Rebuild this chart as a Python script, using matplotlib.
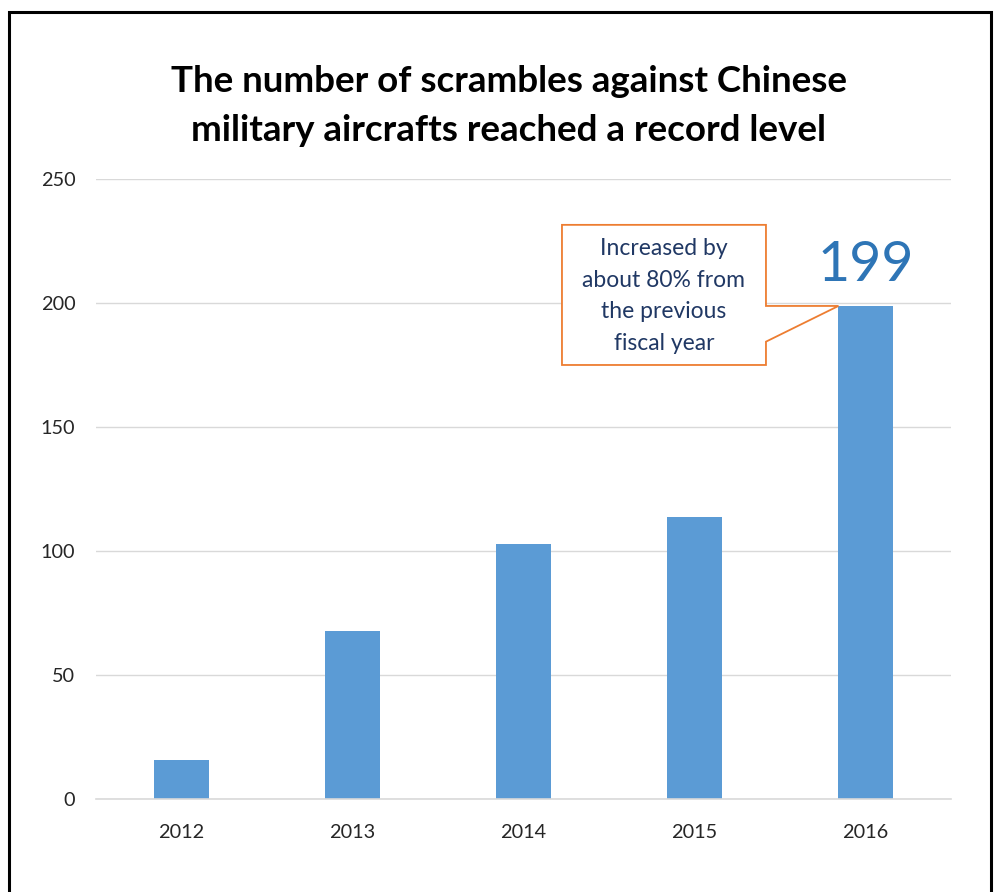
import matplotlib
matplotlib.use("Agg")
from matplotlib import pyplot as plt
from matplotlib.patches import Polygon, Rectangle

years = ["2012", "2013", "2014", "2015", "2016"]
scrambles = [16, 68, 103, 114, 199]
yticks = [0, 50, 100, 150, 200, 250]

title = "The number of scrambles against Chinese\nmilitary aircrafts reached a record level"
note = "Increased by\nabout 80% from\nthe previous\nfiscal year"

plt.rcParams['font.family'] = ['Lato', 'DejaVu Sans']

fig = plt.figure(figsize=(9.96, 8.92), dpi=100)
ax = fig.add_axes([0.0964, 0.1037, 0.8584, 0.6951])

w = 0.316
x = list(range(len(years)))
ax.bar(x, scrambles, width=w, color='#5B9BD5', zorder=2)

ax.set_xlim(-0.5, len(years) - 0.5)
ax.set_ylim(0, 250)
ax.set_yticks(yticks)
ax.set_xticks(x)
ax.set_xticklabels(years)
ax.grid(axis='y', color='#D9D9D9', linewidth=1, zorder=0)
for s in ['top', 'right', 'left']:
    ax.spines[s].set_visible(False)
ax.spines['bottom'].set_color('#D9D9D9')
ax.spines['bottom'].set_linewidth(1.2)
ax.tick_params(axis='both', length=0, labelsize=14.3, colors='#262626')
ax.tick_params(axis='y', pad=15)
ax.tick_params(axis='x', pad=18)

# value label on the last bar
ax.text(x[-1], scrambles[-1] + 10, str(scrambles[-1]), ha='center', va='baseline',
        fontsize=40, color='#2E75B6')

# callout box with pointer to the last bar
tipx = x[-1] - w / 2
tipy = scrambles[-1]
bl, br, bb, bt = 2.225, 3.418, 175.2, 231.7
callout = Polygon([(bl, bt), (br, bt), (br, tipy), (tipx, tipy), (br, 184.6),
                   (br, bb), (bl, bb)], closed=True, facecolor='white',
                  edgecolor='#ED7D31', linewidth=1.3, zorder=3)
ax.add_patch(callout)
ax.text((bl + br) / 2, (bb + bt) / 2 - 0.5, note, ha='center', va='center',
        fontsize=16.5, color='#203864', linespacing=1.62, zorder=4)

fig.text(0.511, 0.881, title, ha='center', va='center', fontsize=26.5,
         fontweight='bold', color='black', linespacing=1.6)

# frame around the picture
fig.patches.append(Rectangle((0.0095, -0.05), 0.9855, 1.037, transform=fig.transFigure,
                             fill=False, edgecolor='black', linewidth=2.2))

plt.savefig('out.png', dpi=100)
